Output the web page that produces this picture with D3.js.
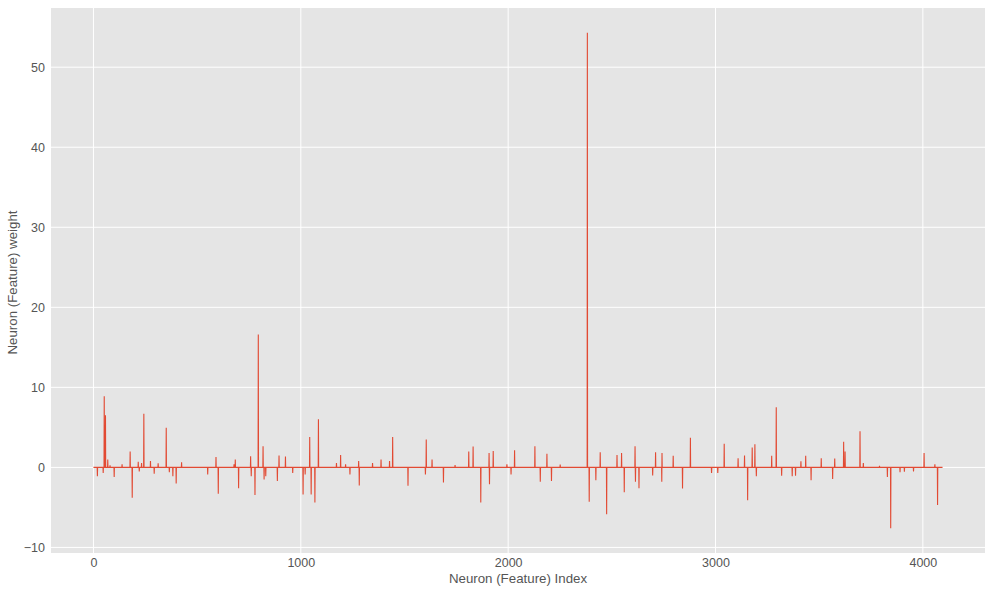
<!DOCTYPE html>
<html>
<head>
<meta charset="utf-8">
<script src="https://cdn.jsdelivr.net/npm/d3@7"></script>
<style>
  body { margin: 0; background: #fff; }
  svg { display: block; font-family: "Liberation Sans", Arial, sans-serif; }
</style>
</head>
<body>
<svg id="chart" width="992" height="589"></svg>
<script>
// Number of neurons (features)
const nFeatures = 4096;
// Non-zero weights (index, value); all other weights are ~0
const spikeIdx = [19,47,52,58,69,80,100,138,177,187,216,221,232,243,275,293,312,351,366,383,399,425,551,591,602,678,684,700,
  758,761,779,795,818,823,831,887,895,926,961,1011,1021,1043,1050,1068,1085,1172,1192,1216,1237,1279,1282,1346,1387,1428,1443,
  1517,1601,1605,1633,1688,1744,1810,1831,1868,1908,1910,1928,1994,2014,2031,2129,2155,2187,2209,
  2251,2382,2391,2423,2444,2475,2525,2547,2560,2612,2614,2631,2697,2711,2741,2742,2796,2841,2879,
  2981,3011,3042,3109,3140,3155,3177,3190,3197,3271,3293,3319,3370,3386,3412,3435,3461,3510,3565,3575,3618,3625,3697,
  3713,3791,3829,3845,3890,3911,3955,4006,4058,4071];
const spikeVal = [-1.1,-0.7,8.9,6.5,1.0,0.25,-1.2,0.4,2.0,-3.8,0.7,-0.5,0.55,6.7,0.8,-0.8,0.5,4.95,-0.6,-1.1,-2.0,0.65,-0.9,1.3,-3.3,0.4,1.0,-2.6,
  1.4,-1.1,-3.45,16.6,2.65,-1.5,-1.1,-1.7,1.5,1.35,-0.7,-3.4,-0.9,3.8,-3.4,-4.4,6.0,0.55,1.55,0.4,-0.9,0.8,-2.25,0.55,1.0,0.8,3.8,
  -2.3,-0.9,3.5,1.0,-1.9,0.3,2.0,2.6,-4.4,1.8,-2.1,2.05,0.4,-0.9,2.15,2.65,-1.8,1.7,-1.7,
  0.35,54.3,-4.3,-1.6,1.9,-5.85,1.55,1.8,-3.1,2.65,-1.8,-2.6,-1.0,1.9,-1.8,1.8,1.45,-2.65,3.7,
  -0.7,-0.7,2.95,1.15,1.5,-4.1,2.5,2.9,-1.1,1.45,7.5,-1.05,-1.1,-1.05,0.75,1.45,-1.6,1.15,-1.45,1.1,3.2,2.0,4.5,
  0.55,0.2,-1.2,-7.6,-0.6,-0.55,-0.5,1.8,0.4,-4.7];
const xTicks = [0, 1000, 2000, 3000, 4000];
const yTicks = [-10, 0, 10, 20, 30, 40, 50];
const xLabel = "Neuron (Feature) Index";
const yLabel = "Neuron (Feature) weight";

const weights = new Array(nFeatures).fill(0);
spikeIdx.forEach((k, i) => { weights[k] = spikeVal[i]; });

const svg = d3.select("#chart");
const pL = 51, pR = 985, pT = 8, pB = 553;

// matplotlib-style 5% margins
const xMin = 0, xMax = nFeatures - 1;
const xPad = (xMax - xMin) * 0.05;
const yMinD = d3.min(weights), yMaxD = d3.max(weights);
const yPad = (yMaxD - yMinD) * 0.05;

const x = d3.scaleLinear().domain([xMin - xPad, xMax + xPad]).range([pL, pR]);
const y = d3.scaleLinear().domain([yMinD - yPad, yMaxD + yPad]).range([pB, pT]);

svg.append("rect").attr("x", pL).attr("y", pT)
  .attr("width", pR - pL).attr("height", pB - pT).attr("fill", "#E5E5E5");

// grid
svg.append("g").selectAll("line").data(xTicks).join("line")
  .attr("x1", d => x(d)).attr("x2", d => x(d)).attr("y1", pT).attr("y2", pB)
  .attr("stroke", "#fff").attr("stroke-width", 1);
svg.append("g").selectAll("line").data(yTicks).join("line")
  .attr("x1", pL).attr("x2", pR).attr("y1", d => y(d)).attr("y2", d => y(d))
  .attr("stroke", "#fff").attr("stroke-width", 1);

// axes (no tick marks, ggplot style)
const xAxis = svg.append("g").attr("transform", `translate(0,${pB})`)
  .call(d3.axisBottom(x).tickValues(xTicks).tickSize(0).tickPadding(5).tickFormat(d3.format("d")));
const yAxis = svg.append("g").attr("transform", `translate(${pL},0)`)
  .call(d3.axisLeft(y).tickValues(yTicks).tickSize(0).tickPadding(6).tickFormat(d => d < 0 ? "\u2212" + Math.abs(d) : d));
[xAxis, yAxis].forEach(a => {
  a.select(".domain").remove();
  a.selectAll("text").attr("fill", "#555555").style("font-size", "12.5px")
    .style("font-family", '"Liberation Sans", Arial, sans-serif');
});

// line
const line = d3.line().x((d, i) => x(i)).y(d => y(d));
svg.append("path").datum(weights)
  .attr("d", line).attr("fill", "none").attr("stroke", "#E24A33").attr("stroke-width", 1.1);

// labels
svg.append("text").attr("x", (pL + pR) / 2).attr("y", 583)
  .attr("text-anchor", "middle").attr("fill", "#555555").style("font-size", "13.3px").text(xLabel);
svg.append("text").attr("transform", `translate(17,${(pT + pB) / 2 + 2}) rotate(-90)`)
  .attr("text-anchor", "middle").attr("fill", "#555555").style("font-size", "13.3px").text(yLabel);
</script>
</body>
</html>
